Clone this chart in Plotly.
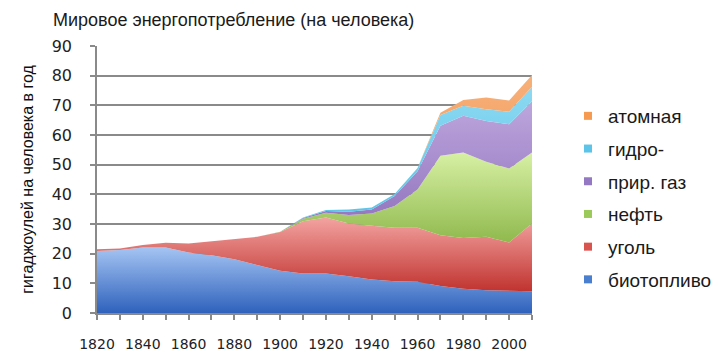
import plotly.graph_objects as go

years = list(range(1820, 2011, 10))

biofuel = [20.9, 21.2, 22.1, 22.1, 20.4, 19.5, 18.1, 16.1, 14.2, 13.3,
           13.3, 12.4, 11.3, 10.7, 10.5, 9.1, 8.2, 7.7, 7.4, 7.3]
coal = [0.6, 0.5, 0.8, 1.6, 3.0, 4.7, 6.7, 9.6, 13.1, 17.6,
        18.9, 17.8, 18.1, 18.0, 18.2, 17.1, 17.1, 18.0, 16.4, 22.9]
oil = [0, 0, 0, 0, 0, 0, 0, 0, 0.1, 0.9,
       1.6, 2.8, 4.1, 7.4, 12.9, 26.8, 28.8, 25.3, 24.9, 23.9]
gas = [0, 0, 0, 0, 0, 0, 0, 0, 0, 0.2,
       0.6, 1.1, 1.4, 3.3, 6.2, 10.1, 12.4, 13.7, 14.9, 17.3]
hydro = [0, 0, 0, 0, 0, 0, 0, 0, 0, 0.2,
         0.3, 0.8, 0.7, 0.7, 1.1, 3.6, 3.4, 4.0, 4.2, 4.9]
nuclear = [0, 0, 0, 0, 0, 0, 0, 0, 0, 0,
           0, 0, 0, 0, 0, 0.8, 1.9, 3.9, 3.8, 3.9]

names = ["биотопливо", "уголь", "нефть", "прир. газ", "гидро-", "атомная"]
series = [biofuel, coal, oil, gas, hydro, nuclear]
# (bottom colour, top colour, legend colour)
colors = [
    ("#2f62bd", "#a4c4f2", "#4a7fd0"),
    ("#c0332f", "#f3a3a1", "#d9534f"),
    ("#8ab547", "#d7f0a4", "#9bc95a"),
    ("#8a6bb8", "#bda6dd", "#9478c4"),
    ("#4fbfe3", "#8dd9f2", "#5bc4e8"),
    ("#f08f45", "#f7b07a", "#f59a50"),
]

x_ticktext = [str(y) if (y - 1820) % 20 == 0 and y <= 2000 else "" for y in years]

fig = go.Figure()
for name, vals, (c0, c1, _) in zip(names, series, colors):
    fig.add_trace(go.Scatter(
        x=years, y=vals, name=name, stackgroup="one", mode="lines",
        line=dict(width=0, color=c1),
        fillgradient=dict(type="vertical", colorscale=[[0, c0], [1, c1]]),
        showlegend=False, hoverinfo="skip",
    ))

for name, (_, _, cl) in reversed(list(zip(names, colors))):
    fig.add_trace(go.Scatter(
        x=[None], y=[None], name=name, mode="markers",
        marker=dict(symbol="square", size=8, color=cl),
        legendgroup=name, showlegend=True,
    ))

fig.update_layout(
    width=719, height=362,
    margin=dict(l=89, r=195, t=38, b=57),
    paper_bgcolor="white", plot_bgcolor="white",
    title=dict(text="Мировое энергопотребление (на человека)",
               x=45 / 719, xanchor="left", xref="container",
               y=1 - 12 / 362, yanchor="middle", yref="container",
               font=dict(family="Liberation Sans, Arial", size=18, color="#1a1a1a")),
    legend=dict(
        xref="container", yref="container",
        x=560 / 719, xanchor="left", y=1 - 89 / 362, yanchor="top",
        traceorder="grouped", tracegroupgap=5, maxheight=340,
        font=dict(family="Liberation Sans, Arial", size=19, color="#1a1a1a"),
        bgcolor="rgba(0,0,0,0)",
    ),
    xaxis=dict(
        range=[1820, 2010], tickvals=years, ticktext=x_ticktext,
        showgrid=False, showline=True, linecolor="#8a8a8a", linewidth=1.5,
        ticks="outside", ticklen=5, tickcolor="#8a8a8a", tickwidth=1.5,
        ticklabelstandoff=12,
        tickfont=dict(family="DejaVu Sans", size=14, color="#222"),
        zeroline=False,
    ),
    yaxis=dict(
        range=[0, 90], dtick=10, tick0=0,
        showgrid=True, gridcolor="#8a8a8a", gridwidth=1.6,
        showline=True, linecolor="#8a8a8a", linewidth=1.5,
        ticks="outside", ticklen=5, tickcolor="#8a8a8a", tickwidth=1.5,
        ticklabelstandoff=15,
        tickfont=dict(family="DejaVu Sans", size=16, color="#222"),
        zeroline=False,
        title=dict(text="гигаджоулей на человека в год", standoff=14,
                   font=dict(family="Liberation Sans, Arial", size=16, color="#111")),
    ),
)

fig.write_html("out.html")
